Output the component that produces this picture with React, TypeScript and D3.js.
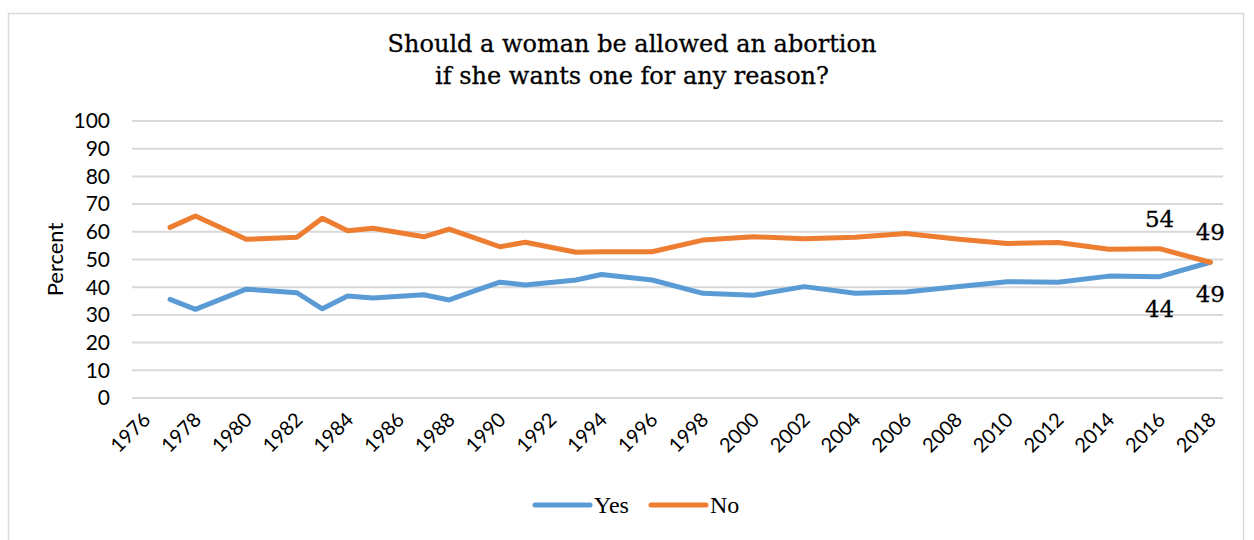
import React from "react";
import * as d3 from "d3";

const years = [1977, 1978, 1980, 1982, 1983, 1984, 1985, 1987, 1988, 1989, 1990, 1991, 1993, 1994, 1996, 1998, 2000, 2002, 2004, 2006, 2008, 2010, 2012, 2014, 2016, 2018];
const yesValues = [35.6, 32, 39.3, 38, 32.2, 36.8, 36.1, 37.3, 35.4, 38.7, 41.8, 40.8, 42.6, 44.6, 42.6, 37.8, 37.1, 40.2, 37.8, 38.3, 40.2, 42, 41.8, 44, 43.8, 49];
const noValues = [61.6, 65.7, 57.3, 58, 64.9, 60.4, 61.3, 58.2, 61, 57.8, 54.6, 56.2, 52.6, 52.8, 52.8, 57, 58.2, 57.5, 58, 59.4, 57.4, 55.8, 56.1, 53.7, 53.9, 49];
const categoryYears = d3.range(1976, 2019);
const xTickLabels = d3.range(1976, 2019, 2);
const yTicks = d3.range(0, 101, 10);
const labelledYears = [2016, 2018];
const titleLines = ["Should a woman be allowed an abortion", "if she wants one for any reason?"];
const seriesNames = ["Yes", "No"];

const BLUE = "#5b9bd5";
const ORANGE = "#ed7d31";
const GRID = "#d9d9d9";

export default function App() {
  const W = 1254, H = 540;
  const left = 132, right = 1223, top = 121, bottom = 398;
  const x = d3.scaleBand<number>().domain(categoryYears).range([left, right]);
  const cx = (yr: number) => (x(yr) as number) + x.bandwidth() / 2;
  const y = d3.scaleLinear().domain([0, 100]).range([bottom, top]);

  const line = d3.line<[number, number]>().x(d => cx(d[0])).y(d => y(d[1]));
  const yesPts = years.map((yr, i) => [yr, yesValues[i]] as [number, number]);
  const noPts = years.map((yr, i) => [yr, noValues[i]] as [number, number]);

  const tickFont = "Lato, 'Open Sans', sans-serif";
  const slabFont = "'DejaVu Serif', serif";

  return (
    <svg width={W} height={H} style={{ position: "absolute", left: 0, top: 0, background: "#fff" }}>
      <rect x={8.5} y={13.5} width={1235} height={600} fill="#fff" stroke={GRID} strokeWidth={1.5} />
      {titleLines.map((t, i) => (
        <text key={i} x={632} y={52 + i * 31.5} textAnchor="middle" fontFamily={slabFont} fontSize={24} stroke="#000" strokeWidth={0.3} fill="#000">{t}</text>
      ))}
      {yTicks.map(t => (
        <g key={t}>
          <line x1={left} x2={right} y1={y(t)} y2={y(t)} stroke={GRID} strokeWidth={2} />
          <text x={110} y={y(t)} dy="0.35em" textAnchor="end" fontFamily={tickFont} fontSize={21} fill="#000">{t}</text>
        </g>
      ))}
      <text transform={`translate(63,${(top + bottom) / 2}) rotate(-90)`} textAnchor="middle" fontFamily={tickFont} fontSize={22} fill="#000">Percent</text>
      {xTickLabels.map(yr => (
        <text key={yr} transform={`translate(${cx(yr) + 2},${416}) rotate(-45)`} textAnchor="end" dy="0.35em" fontFamily={tickFont} fontSize={20} fill="#000">{yr}</text>
      ))}
      <path d={line(yesPts) || ""} fill="none" stroke={BLUE} strokeWidth={5} strokeLinejoin="round" strokeLinecap="round" />
      <path d={line(noPts) || ""} fill="none" stroke={ORANGE} strokeWidth={5} strokeLinejoin="round" strokeLinecap="round" />
      {labelledYears.map(yr => {
        const i = years.indexOf(yr);
        return (
          <g key={yr}>
            <text x={cx(yr)} y={y(noValues[i]) - 22} textAnchor="middle" fontFamily={slabFont} fontSize={23} stroke="#000" strokeWidth={0.3} fill="#000">{Math.round(noValues[i])}</text>
            <text x={cx(yr)} y={y(yesValues[i]) + 40} textAnchor="middle" fontFamily={slabFont} fontSize={23} stroke="#000" strokeWidth={0.3} fill="#000">{Math.round(yesValues[i])}</text>
          </g>
        );
      })}
      {seriesNames.map((s, i) => {
        const x0 = 535 + i * 116;
        return (
          <g key={s}>
            <line x1={x0} x2={x0 + 55} y1={505} y2={505} stroke={i === 0 ? BLUE : ORANGE} strokeWidth={5} strokeLinecap="round" />
            <text x={x0 + 59} y={513} fontFamily="'Liberation Serif', serif" fontSize={24} fill="#000">{s}</text>
          </g>
        );
      })}
    </svg>
  );
}
